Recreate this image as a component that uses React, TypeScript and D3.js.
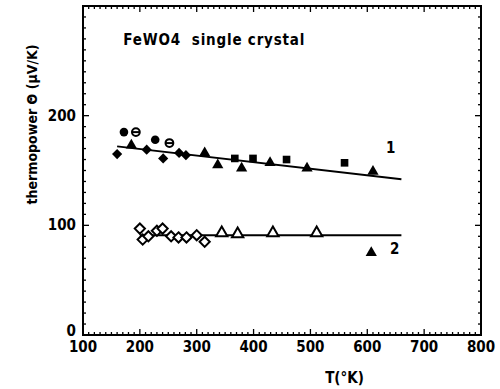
import * as d3 from "d3"

// thermopower of FeWO4 single crystal
type Pt = [number, number]

const s1Diamonds: Pt[] = [[160, 165], [212, 169], [241, 161], [269, 166], [281, 164]]
const s1Circles: Pt[] = [[172, 185], [227, 178]]
const s1Crossed: Pt[] = [[193, 185], [252, 175]]
const s1Triangles: Pt[] = [[185, 173], [314, 166], [337, 155], [379, 152], [429, 157], [494, 152], [610, 149]]
const s1Squares: Pt[] = [[367, 161], [399, 161], [458, 160], [560, 157]]
const fit1: Pt[] = [[160, 172], [660, 142]]

const s2Diamonds: Pt[] = [[200, 97], [205, 87], [215, 90], [230, 95], [240, 97], [255, 90], [268, 89], [282, 89], [300, 91], [314, 85]]
const s2Triangles: Pt[] = [[344, 93], [372, 92], [434, 93], [511, 93]]
const s2Filled: Pt[] = [[607, 75]]
const fit2: Pt[] = [[200, 91], [660, 91]]

const xMajor = [100, 200, 300, 400, 500, 600, 700, 800]
const yMajor = [0, 100, 200]

const W = 500
const H = 389
const margin = { top: 6, right: 19, bottom: 54, left: 83 }
const font = "'Liberation Sans Narrow', 'DejaVu Sans Condensed', sans-serif"

export default function App() {
  const x = d3.scaleLinear().domain([100, 800]).range([margin.left, W - margin.right])
  const y = d3.scaleLinear().domain([0, 300]).range([H - margin.bottom, margin.top])
  const [x0, x1] = x.range()
  const [y0, y1] = y.range()

  const minorX = d3.range(100, 801, 10)
  const minorY = d3.range(0, 301, 10)
  const line = d3.line<Pt>().x((d) => x(d[0])).y((d) => y(d[1]))
  const tri = d3.symbol(d3.symbolTriangle, 55)()
  const sq = d3.symbol(d3.symbolSquare, 58)()
  const dia = d3.symbol(d3.symbolDiamond2, 66)()
  const at = (d: Pt) => `translate(${x(d[0])},${y(d[1])})`

  return (
    <svg width={W} height={H} style={{ position: "absolute", left: 0, top: 0, background: "white" }}>
      {/* ticks, inward on all sides */}
      <g stroke="black" strokeWidth={1.3}>
        {minorX.map((t) => {
          const len = t % 100 === 0 ? 6 : 3
          return (
            <g key={"x" + t}>
              <line x1={x(t)} x2={x(t)} y1={y0} y2={y0 - len} />
              <line x1={x(t)} x2={x(t)} y1={y1} y2={y1 + len} />
            </g>
          )
        })}
        {minorY.map((v) => {
          const len = v % 100 === 0 ? 6 : 3
          return (
            <g key={"y" + v}>
              <line x1={x0} x2={x0 + len} y1={y(v)} y2={y(v)} />
              <line x1={x1} x2={x1 - len} y1={y(v)} y2={y(v)} />
            </g>
          )
        })}
      </g>
      <rect x={x0} y={y1} width={x1 - x0} height={y0 - y1} fill="none" stroke="black" strokeWidth={2} />

      {/* tick labels */}
      <g fontFamily={font} fontWeight="bold" fontSize={15}>
        {xMajor.map((t) => (
          <text key={t} x={x(t)} y={y0 + 17} textAnchor="middle">{t}</text>
        ))}
        {yMajor.map((v) => (
          <text key={v} x={x0 - 7} y={y(v) + (v === 0 ? 1 : 5)} textAnchor="end">{v}</text>
        ))}
      </g>
      <text x={x(560)} y={H - 6} textAnchor="middle" fontFamily={font} fontWeight="bold" fontSize={15}>T(°K)</text>
      <text
        transform={`translate(37, ${y(192)}) rotate(-90)`}
        textAnchor="middle"
        fontFamily={font}
        fontWeight="bold"
        fontSize={14}
      >
        thermopower Θ (μV/K)
      </text>
      <text
        x={x(171)}
        y={y(264)}
        fontFamily={font}
        fontWeight="bold"
        fontSize={15}
        letterSpacing={0.8}
        style={{ whiteSpace: "pre" }}
      >
        FeWO4  single crystal
      </text>

      {/* fit lines */}
      <path d={line(fit1) ?? ""} fill="none" stroke="black" strokeWidth={2} />
      <path d={line(fit2) ?? ""} fill="none" stroke="black" strokeWidth={2} />
      <text x={x(633)} y={y(166)} fontFamily={font} fontWeight="bold" fontSize={15}>1</text>
      <text x={x(640)} y={y(74)} fontFamily={font} fontWeight="bold" fontSize={15}>2</text>

      {/* series 1: filled markers */}
      <g fill="black">
        {s1Diamonds.map((d, i) => <path key={"d" + i} d={dia ?? ""} transform={at(d)} />)}
        {s1Circles.map((d, i) => <circle key={"c" + i} cx={x(d[0])} cy={y(d[1])} r={4.3} />)}
        {s1Crossed.map((d, i) => (
          <g key={"e" + i} transform={at(d)}>
            <circle r={3.9} fill="none" stroke="black" strokeWidth={2} />
            <line x1={-3.6} x2={3.6} stroke="black" strokeWidth={2} />
          </g>
        ))}
        {s1Triangles.map((d, i) => <path key={"t" + i} d={tri ?? ""} transform={at(d)} />)}
        {s1Squares.map((d, i) => <path key={"s" + i} d={sq ?? ""} transform={at(d)} />)}
        {s2Filled.map((d, i) => <path key={"f" + i} d={tri ?? ""} transform={at(d)} />)}
      </g>

      {/* series 2: open markers */}
      <g fill="white" stroke="black" strokeWidth={2}>
        {s2Diamonds.map((d, i) => <path key={"od" + i} d={dia ?? ""} transform={at(d)} />)}
        {s2Triangles.map((d, i) => <path key={"ot" + i} d={tri ?? ""} transform={at(d)} />)}
      </g>
    </svg>
  )
}
